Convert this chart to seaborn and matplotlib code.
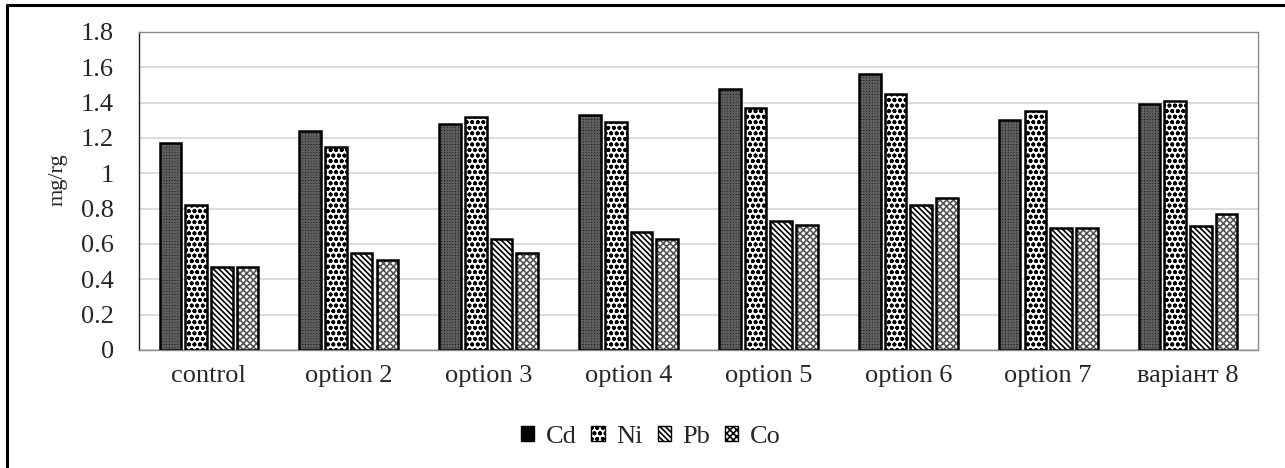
import matplotlib
matplotlib.use("Agg")
import matplotlib.pyplot as plt
from matplotlib.patches import Rectangle, Patch
from matplotlib.lines import Line2D
from matplotlib.ticker import FuncFormatter
import seaborn as sns
import pandas as pd

# ---- data ----
categories = ["control", "option 2", "option 3", "option 4",
              "option 5", "option 6", "option 7", "варіант 8"]
metals = ["Cd", "Ni", "Pb", "Co"]
cd = [1.17, 1.24, 1.28, 1.33, 1.48, 1.56, 1.30, 1.39]
ni = [0.82, 1.15, 1.32, 1.29, 1.37, 1.45, 1.35, 1.41]
pb = [0.47, 0.55, 0.63, 0.67, 0.73, 0.82, 0.69, 0.70]
co = [0.47, 0.51, 0.55, 0.63, 0.71, 0.86, 0.69, 0.77]
y_ticks = [0, 0.2, 0.4, 0.6, 0.8, 1.0, 1.2, 1.4, 1.6, 1.8]
y_label = "mg/rg"

series = {"Cd": cd, "Ni": ni, "Pb": pb, "Co": co}
df = pd.DataFrame([
    {"category": c, "metal": m, "value": v}
    for m in metals for c, v in zip(categories, series[m])
])

# ---- style ----
sns.set_style("white")
plt.rcParams["font.family"] = ["Liberation Serif", "DejaVu Serif"]
plt.rcParams["hatch.linewidth"] = 1.2

styles = {
    "Cd": dict(face="#111111", hatch="++++++", hcol="#5e5e5e"),
    "Ni": dict(face="white", hatch="ooo", hcol="black"),
    "Pb": dict(face="white", hatch="\\\\\\\\\\\\", hcol="black"),
    "Co": dict(face="white", hatch="xxxxx", hcol="#555555"),
}

fig = plt.figure(figsize=(12.85, 4.68), dpi=100)
ax = fig.add_axes([139 / 1285, 1 - 350 / 468, 1119 / 1285, 318 / 468])

sns.barplot(data=df, x="category", y="value", hue="metal",
            hue_order=metals, order=categories,
            palette=["white"] * 4, width=0.735, gap=0.16,
            legend=False, ax=ax, errorbar=None)

outlines = []
for container, m in zip(ax.containers, metals):
    st = styles[m]
    for p in container:
        p.set_facecolor(st["face"])
        p.set_edgecolor(st["hcol"])
        p.set_hatch(st["hatch"])
        p.set_linewidth(0)
        outlines.append((p.get_x(), p.get_y(), p.get_width(), p.get_height()))
for (x, y, w, h) in outlines:
    ax.add_patch(Rectangle((x, y), w, h, fill=False,
                           edgecolor="black", linewidth=1.8, zorder=3))

ax.set_ylim(0, 1.8)
ax.set_yticks(y_ticks)
ax.yaxis.set_major_formatter(FuncFormatter(lambda v, _: f"{v:g}"))
ax.grid(axis="y", color="#d9d9d9", linewidth=1.3)
ax.set_axisbelow(True)
ax.tick_params(axis="y", length=0, pad=18, labelsize=19)
ax.tick_params(axis="x", length=0, pad=11, labelsize=19)
ax.set_xlabel("")
ax.set_ylabel(y_label, fontsize=16)
ax.yaxis.set_label_coords(-0.0724, 0.535)
ax.yaxis.label.set_verticalalignment("center")

for s in ["top", "right", "bottom"]:
    ax.spines[s].set_color("#8a8a8a")
    ax.spines[s].set_linewidth(1.0)
ax.spines["left"].set_color("#222222")
ax.spines["left"].set_linewidth(1.0)

handles = [Patch(facecolor=styles[m]["face"], edgecolor="black",
                 hatch=styles[m]["hatch"], linewidth=1.0) for m in metals]
fig.legend(handles, metals, loc="center", bbox_to_anchor=(651 / 1285, 1 - 437 / 468),
           ncol=4, frameon=False, fontsize=19, handlelength=0.5,
           handleheight=0.5, handletextpad=0.45, columnspacing=0.55)

# outer frame (top and left edges visible)
fig.add_artist(Line2D([7 / 1285, 1], [1 - 5 / 468, 1 - 5 / 468],
                      transform=fig.transFigure, color="black", linewidth=2.2))
fig.add_artist(Line2D([7 / 1285, 7 / 1285], [0, 1 - 5 / 468],
                      transform=fig.transFigure, color="black", linewidth=2.2))

fig.savefig("out.png", dpi=100)
